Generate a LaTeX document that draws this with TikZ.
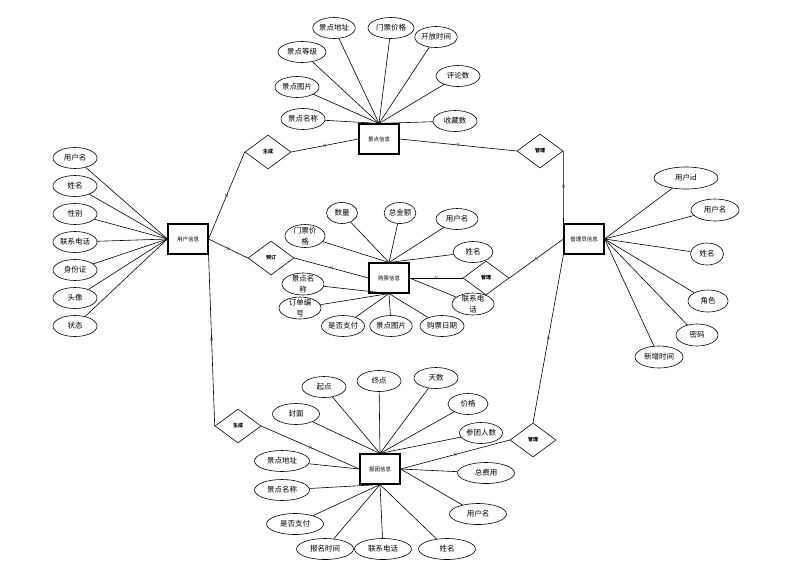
\documentclass[tikz,border=0pt]{standalone}
\usepackage{fontspec}
\setmainfont{Noto Sans CJK SC}
\usetikzlibrary{shapes.geometric}

\newcommand{\twoline}[2]{\smash{\raisebox{-3pt}{\begin{tabular}{@{}c@{}}#1\\#2\end{tabular}}}}

\begin{document}
\begin{tikzpicture}[
  x=1pt, y=-1pt,
  font=\fontsize{7.5}{11}\selectfont,
  entity/.style = {
    rectangle, draw=black, line width=1.1pt,
    minimum width=40pt, minimum height=30pt, inner sep=0pt,
    font=\fontsize{5.5}{6}\selectfont,
  },
  rel/.style = {
    diamond, draw=black, line width=0.6pt,
    minimum width=46pt, minimum height=34pt, inner sep=0pt,
    font=\fontsize{5}{6}\selectfont\bfseries,
  },
  attr/.style = {
    ellipse, draw=black, line width=0.6pt,
    minimum width=44pt, minimum height=21pt, inner sep=0pt,
  },
  link/.style = {draw=black, line width=0.6pt},
  card/.style = {font=\fontsize{4.5}{4.5}\selectfont, text=black!75, inner sep=0pt},
]
  \useasboundingbox (0,0) rectangle (791,571);

  % entities
  \node[entity] (user)   at (188,239) {用户信息};
  \node[entity] (spot)   at (379,139) {景点信息};
  \node[entity] (admin)  at (584,239) {管理员信息};
  \node[entity] (ticket) at (389,278) {购票信息};
  \node[entity] (tour)   at (380,469) {报团信息};

  % relationships
  \node[rel] (gen1)  at (268,152) {生成};
  \node[rel] (order) at (271,258) {预订};
  \node[rel] (gen2)  at (238,426) {生成};
  \node[rel] (man1)  at (540,151) {管理};
  \node[rel] (man2)  at (486,278) {管理};
  \node[rel] (man3)  at (533,440) {管理};

  \draw[link] (user.east) -- node[card] {N} (gen1.west);
  \draw[link] (gen1.east) -- node[card] {N} (spot.west);
  \draw[link] (user.east) -- node[card] {N} (order.west);
  \draw[link] (order.east) -- node[card] {N} (ticket.west);
  \draw[link] (user.south east) -- node[card] {N} (gen2.west);
  \draw[link] (gen2.east) -- node[card] {N} (tour.west);
  \draw[link] (spot.east) -- node[card] {N} (man1.west);
  \draw[link] (man1.east) -- node[card] {N} (admin.north west);
  \draw[link] (ticket.east) -- node[card] {N} (man2.west);
  \draw[link] (man2.east) -- node[card] {N} (admin.west);
  \draw[link] (admin.south west) -- node[card] {N} (man3.north);
  \draw[link] (man3.west) -- node[card] {N} (tour.east);

  % user attributes
  \node[attr] (u1) at (75,158) {用户名};
  \node[attr] (u2) at (75,186) {姓名};
  \node[attr] (u3) at (75,214) {性别};
  \node[attr] (u4) at (75,242) {联系电话};
  \node[attr] (u5) at (75,270) {身份证};
  \node[attr] (u6) at (75,298) {头像};
  \node[attr] (u7) at (75,326) {状态};
  \draw[link] (u1) -- (user.west);
  \draw[link] (u2) -- (user.west);
  \draw[link] (u3) -- (user.west);
  \draw[link] (u4) -- (user.west);
  \draw[link] (u5) -- (user.west);
  \draw[link] (u6) -- (user.west);
  \draw[link] (u7) -- (user.west);

  % spot attributes
  \node[attr, minimum width=41pt] (s1) at (334,28)  {景点地址};
  \node[attr, minimum width=46pt] (s2) at (391,28)  {门票价格};
  \node[attr, minimum width=41pt] (s3) at (436,37)  {开放时间};
  \node[attr, minimum width=48pt] (s4) at (302,52)  {景点等级};
  \node[attr]                     (s5) at (458,76)  {评论数};
  \node[attr]                     (s6) at (297,87)  {景点图片};
  \node[attr]                     (s7) at (303,119) {景点名称};
  \node[attr]                     (s8) at (455,121) {收藏数};
  \draw[link] (s1) -- (spot.north);
  \draw[link] (s2) -- (spot.north);
  \draw[link] (s3) -- (spot.north);
  \draw[link] (s4) -- (spot.north);
  \draw[link] (s5) -- (spot.north);
  \draw[link] (s6) -- (spot.north);
  \draw[link] (s7) -- (spot.north);
  \draw[link] (s8) -- (spot.north);

  % ticket attributes
  \node[attr, minimum width=31pt] (t1)  at (342,213) {数量};
  \node[attr, minimum width=31pt] (t2)  at (400,213) {总金额};
  \node[attr, minimum width=42pt] (t3)  at (457,219) {用户名};
  \node[attr, minimum width=40pt, minimum height=23pt] (t4) at (305,236) {\twoline{门票价}{格}};
  \node[attr, minimum width=40pt] (t5)  at (473,252) {姓名};
  \node[attr, minimum width=42pt, minimum height=22pt] (t6) at (303,284) {\twoline{景点名}{称}};
  \node[attr, minimum width=42pt, minimum height=22pt] (t7) at (300,308) {\twoline{订单编}{号}};
  \node[attr, minimum width=43pt] (t8)  at (343,326) {是否支付};
  \node[attr, minimum width=42pt] (t9)  at (391,326) {景点图片};
  \node[attr, minimum width=44pt] (t10) at (442,326) {购票日期};
  \node[attr, minimum width=42pt, minimum height=22pt] (t11) at (473,304) {\twoline{联系电}{话}};
  \draw[link] (t1) -- (ticket.north);
  \draw[link] (t2) -- (ticket.north);
  \draw[link] (t3) -- (ticket.north);
  \draw[link] (t4) -- (ticket.north);
  \draw[link] (t5) -- (ticket.north);
  \draw[link] (t6) -- (ticket.south);
  \draw[link] (t7) -- (ticket.south);
  \draw[link] (t8) -- (ticket.south);
  \draw[link] (t9) -- (ticket.south);
  \draw[link] (t10) -- (ticket.south);
  \draw[link] (t11) -- (ticket.east);

  % admin attributes
  \node[attr, minimum width=64pt, minimum height=22pt] (a1) at (686,178) {用户id};
  \node[attr, minimum width=48pt, minimum height=22pt] (a2) at (715,210) {用户名};
  \node[attr, minimum width=33pt, minimum height=22pt] (a3) at (707,254) {姓名};
  \node[attr, minimum width=40pt, minimum height=22pt] (a4) at (708,301) {角色};
  \node[attr, minimum width=42pt, minimum height=22pt] (a5) at (697,335) {密码};
  \node[attr, minimum width=48pt, minimum height=22pt] (a6) at (659,357) {新增时间};
  \draw[link] (a1) -- (admin.east);
  \draw[link] (a2) -- (admin.east);
  \draw[link] (a3) -- (admin.east);
  \draw[link] (a4) -- (admin.east);
  \draw[link] (a5) -- (admin.east);
  \draw[link] (a6) -- (admin.east);

  % tour attributes
  \node[attr]                     (g1)  at (324,387) {起点};
  \node[attr]                     (g2)  at (379,381) {终点};
  \node[attr]                     (g3)  at (436,378) {天数};
  \node[attr, minimum width=47pt] (g4)  at (296,414) {封面};
  \node[attr, minimum width=40pt] (g5)  at (468,404) {价格};
  \node[attr, minimum width=43pt] (g6)  at (481,433) {参团人数};
  \node[attr, minimum width=55pt] (g7)  at (282,461) {景点地址};
  \node[attr, minimum width=57pt] (g8)  at (486,473) {总费用};
  \node[attr, minimum width=55pt] (g9)  at (282,490) {景点名称};
  \node[attr, minimum width=57pt] (g10) at (478,514) {用户名};
  \node[attr, minimum width=57pt] (g11) at (295,524) {是否支付};
  \node[attr, minimum width=57pt] (g12) at (325,549) {报名时间};
  \node[attr, minimum width=57pt] (g13) at (383,549) {联系电话};
  \node[attr, minimum width=57pt] (g14) at (447,549) {姓名};
  \draw[link] (g1) -- (tour.north);
  \draw[link] (g2) -- (tour.north);
  \draw[link] (g3) -- (tour.north);
  \draw[link] (g4) -- (tour.north);
  \draw[link] (g5) -- (tour.north);
  \draw[link] (g6) -- (tour.north);
  \draw[link] (g7) -- (tour.west);
  \draw[link] (g8) -- (tour.east);
  \draw[link] (g9) -- (tour.south);
  \draw[link] (g10) -- (tour.east);
  \draw[link] (g11) -- (tour.south);
  \draw[link] (g12) -- (tour.south);
  \draw[link] (g13) -- (tour.south);
  \draw[link] (g14) -- (tour.south);
\end{tikzpicture}
\end{document}
